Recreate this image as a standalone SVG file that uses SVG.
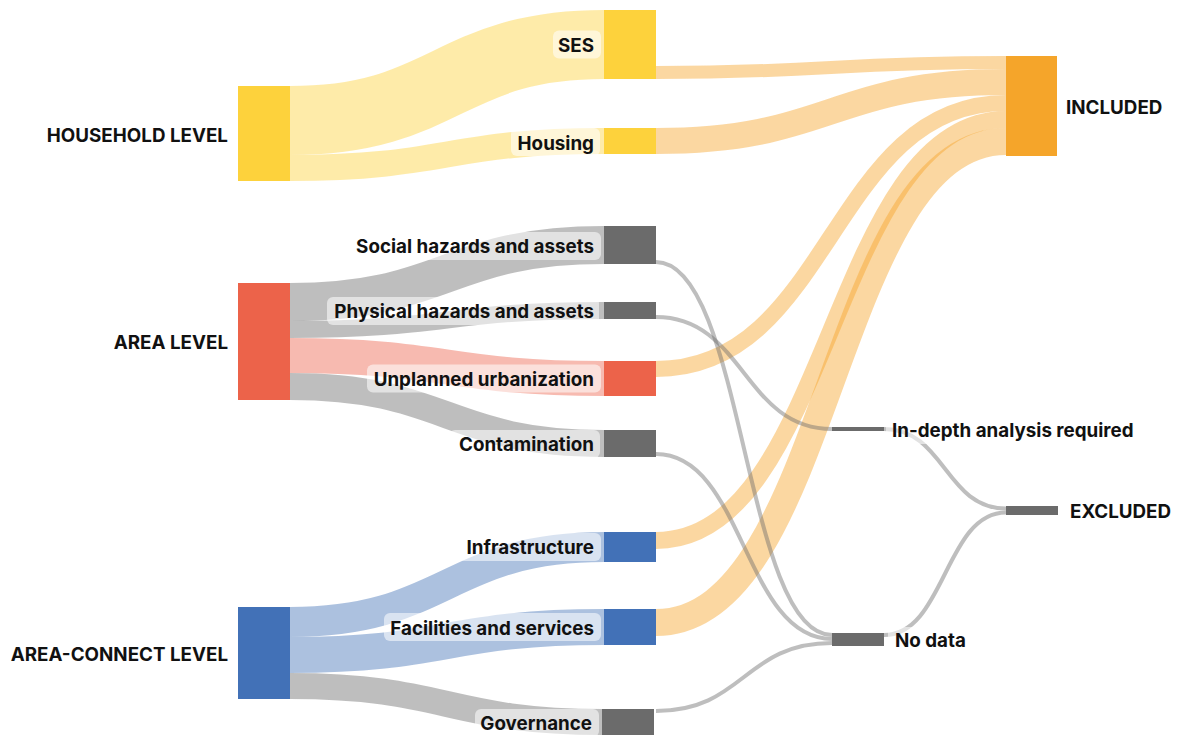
<svg xmlns="http://www.w3.org/2000/svg" width="1178" height="735" viewBox="0 0 1178 735">
  <style>
    .lk { fill: none; stroke-opacity: 0.44; }
    .yl { stroke: #fdd23c; }
    .gy { stroke: #6b6b6b; }
    .rd { stroke: #ec634a; }
    .bl { stroke: #4271b7; }
    .or { stroke: #f5a52a; }
    .thin { stroke: #6b6b6b; stroke-width: 4; }
    .n-yl { fill: #fdd23c; }
    .n-gy { fill: #6b6b6b; }
    .n-rd { fill: #ec634a; }
    .n-bl { fill: #4271b7; }
    .n-or { fill: #f5a52a; }
    .lbl { font-family: Inter, "Liberation Sans", sans-serif; font-weight: 700; font-size: 18.8px; fill: #111; }
    .bg { fill: #fff; fill-opacity: 0.55; }
  </style>

  <!-- flows -->
  <g id="links">
    <!-- level -> category -->
    <path class="lk yl" stroke-width="69" d="M290,120.5 C447,120.5 447,44.5 604,44.5"/>
    <path class="lk yl" stroke-width="26" d="M290,168 C447,168 447,141 604,141"/>
    <path class="lk gy" stroke-width="38" d="M290,302 C447,302 447,245 604,245"/>
    <path class="lk gy" stroke-width="17" d="M290,329.5 C447,329.5 447,310.5 604,310.5"/>
    <path class="lk rd" stroke-width="35" d="M290,355.5 C447,355.5 447,378.5 604,378.5"/>
    <path class="lk gy" stroke-width="27" d="M290,386.5 C447,386.5 447,443.5 604,443.5"/>
    <path class="lk bl" stroke-width="30" d="M290,622 C447,622 447,547 604,547"/>
    <path class="lk bl" stroke-width="36" d="M290,655 C447,655 447,627 604,627"/>
    <path class="lk gy" stroke-width="26" d="M290,686 C447,686 447,722 604,722"/>

    <!-- category -> INCLUDED -->
    <path class="lk or" stroke-width="13" d="M656,72.5 C831,72.5 831,62.5 1006,62.5"/>
    <path class="lk or" stroke-width="26" d="M656,141 C831,141 831,82 1006,82"/>
    <path class="lk or" stroke-width="16" d="M656,369 C831,369 831,103 1006,103"/>
    <path class="lk or" stroke-width="17" d="M656,540.5 C831,540.5 831,119.5 1006,119.5"/>
    <path class="lk or" stroke-width="27" d="M656,622.5 C831,622.5 831,141.5 1006,141.5"/>

    <!-- category -> review outcome -->
    <path class="lk thin" d="M656,262 C744,262 744,635 832,635"/>
    <path class="lk thin" d="M656,317 C744,317 744,429 832,429"/>
    <path class="lk thin" d="M656,454 C744,454 744,639 832,639"/>
    <path class="lk thin" d="M656,711 C744,711 744,643 832,643"/>

    <!-- review outcome -> EXCLUDED -->
    <path class="lk thin" d="M884,429 C945,429 945,508.5 1006,508.5"/>
    <path class="lk thin" d="M884,635 C945,635 945,512.5 1006,512.5"/>
  </g>

  <!-- level nodes -->
  <g id="household-level">
    <rect class="n-yl" x="238" y="86" width="52" height="95"/>
    <text class="lbl" x="228" y="141.5" text-anchor="end">HOUSEHOLD LEVEL</text>
  </g>
  <g id="area-level">
    <rect class="n-rd" x="238" y="283" width="52" height="117"/>
    <text class="lbl" x="228" y="349" text-anchor="end">AREA LEVEL</text>
  </g>
  <g id="area-connect-level">
    <rect class="n-bl" x="238" y="607" width="52" height="92"/>
    <text class="lbl" x="228" y="660.5" text-anchor="end">AREA-CONNECT LEVEL</text>
  </g>

  <!-- category nodes -->
  <g id="ses">
    <rect class="n-yl" x="604" y="10" width="52" height="69"/>
    <rect class="bg" x="553" y="30.5" width="48" height="28" rx="6"/>
    <text class="lbl" x="594" y="52" text-anchor="end">SES</text>
  </g>
  <g id="housing">
    <rect class="n-yl" x="604" y="128" width="52" height="26"/>
    <rect class="bg" x="511" y="128" width="89" height="28" rx="6"/>
    <text class="lbl" x="594" y="150" text-anchor="end">Housing</text>
  </g>
  <g id="social-hazards">
    <rect class="n-gy" x="604" y="226" width="52" height="38"/>
    <rect class="bg" x="348" y="232" width="253" height="28" rx="6"/>
    <text class="lbl" x="594" y="253" text-anchor="end">Social hazards and assets</text>
  </g>
  <g id="physical-hazards">
    <rect class="n-gy" x="604" y="302" width="52" height="17"/>
    <rect class="bg" x="327" y="297" width="272" height="28" rx="6"/>
    <text class="lbl" x="594" y="318" text-anchor="end">Physical hazards and assets</text>
  </g>
  <g id="unplanned-urbanization">
    <rect class="n-rd" x="604" y="361" width="52" height="35"/>
    <rect class="bg" x="367" y="364.5" width="234" height="28" rx="6"/>
    <text class="lbl" x="594" y="386" text-anchor="end">Unplanned urbanization</text>
  </g>
  <g id="contamination">
    <rect class="n-gy" x="604" y="430" width="52" height="27"/>
    <rect class="bg" x="449" y="430" width="151" height="28" rx="6"/>
    <text class="lbl" x="594" y="451" text-anchor="end">Contamination</text>
  </g>
  <g id="infrastructure">
    <rect class="n-bl" x="604" y="532" width="52" height="30"/>
    <rect class="bg" x="458" y="533" width="143" height="28" rx="6"/>
    <text class="lbl" x="594" y="554" text-anchor="end">Infrastructure</text>
  </g>
  <g id="facilities-and-services">
    <rect class="n-bl" x="604" y="609" width="52" height="36"/>
    <rect class="bg" x="384" y="613" width="217" height="28" rx="6"/>
    <text class="lbl" x="594" y="635" text-anchor="end">Facilities and services</text>
  </g>
  <g id="governance">
    <rect class="n-gy" x="602" y="709" width="52" height="26"/>
    <rect class="bg" x="475" y="709" width="124" height="28" rx="6"/>
    <text class="lbl" x="592" y="730" text-anchor="end">Governance</text>
  </g>

  <!-- review outcome nodes -->
  <g id="in-depth-analysis">
    <rect class="n-gy" x="832" y="427" width="52" height="4"/>
    <rect class="bg" x="886" y="416" width="256" height="28" rx="6"/>
    <text class="lbl" x="892" y="436.5" text-anchor="start">In-depth analysis required</text>
  </g>
  <g id="no-data">
    <rect class="n-gy" x="832" y="633" width="52" height="13"/>
    <rect class="bg" x="888" y="627" width="86" height="28" rx="6"/>
    <text class="lbl" x="895" y="647" text-anchor="start">No data</text>
  </g>

  <!-- final decision nodes -->
  <g id="included">
    <rect class="n-or" x="1006" y="56" width="51" height="100"/>
    <text class="lbl" x="1066" y="114" text-anchor="start">INCLUDED</text>
  </g>
  <g id="excluded">
    <rect class="n-gy" x="1006" y="506" width="52" height="9"/>
    <text class="lbl" x="1070" y="518" text-anchor="start">EXCLUDED</text>
  </g>
</svg>
